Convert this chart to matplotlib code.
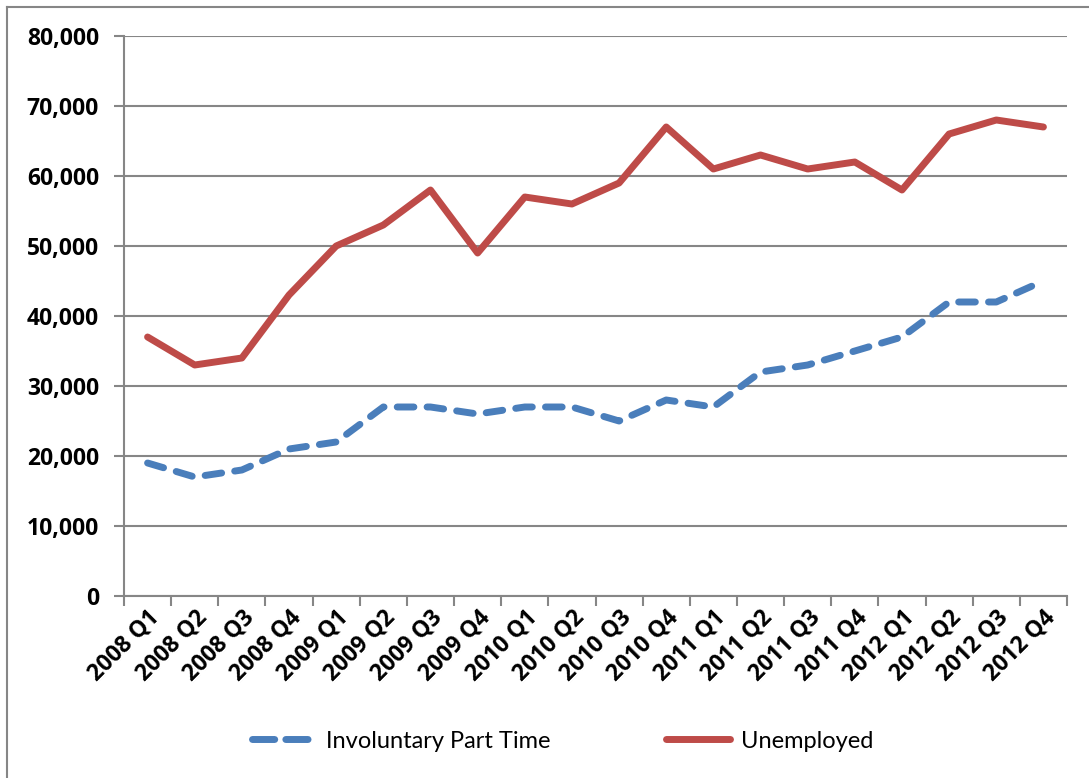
import matplotlib.pyplot as plt
from matplotlib.lines import Line2D

quarters = ["2008 Q1", "2008 Q2", "2008 Q3", "2008 Q4",
            "2009 Q1", "2009 Q2", "2009 Q3", "2009 Q4",
            "2010 Q1", "2010 Q2", "2010 Q3", "2010 Q4",
            "2011 Q1", "2011 Q2", "2011 Q3", "2011 Q4",
            "2012 Q1", "2012 Q2", "2012 Q3", "2012 Q4"]
involuntary = [19000, 17000, 18000, 21000, 22000, 27000, 27000, 26000, 27000, 27000,
               25000, 28000, 27000, 32000, 33000, 35000, 37000, 42000, 42000, 45000]
unemployed = [37000, 33000, 34000, 43000, 50000, 53000, 58000, 49000, 57000, 56000,
              59000, 67000, 61000, 63000, 61000, 62000, 58000, 66000, 68000, 67000]
y_ticks = list(range(0, 80001, 10000))

plt.rcParams['font.family'] = ['Lato', 'DejaVu Sans']
bold_font = ['Open Sans', 'DejaVu Sans']

fig = plt.figure(figsize=(10.89, 7.78), dpi=100)
ax = fig.add_axes([124/1089, 1 - 596/778, (1067 - 124)/1089, (596 - 36)/778])

x = list(range(len(quarters)))
blue = "#4a7ebb"
red = "#be4b48"
grid_c = "#868686"

ax.plot(x, involuntary, color=blue, lw=5.0, dashes=(2.4, 1.9),
        dash_capstyle='round', solid_joinstyle='round')
ax.plot(x, unemployed, color=red, lw=5.0, solid_capstyle='round',
        solid_joinstyle='round')

ax.set_xlim(-0.5, len(quarters) - 0.5)
ax.set_ylim(0, 80000)
ax.set_yticks(y_ticks)
ax.set_yticklabels([f"{v:,}" for v in y_ticks], fontsize=16.5, fontweight='bold',
                   family=bold_font)
ax.grid(axis='y', color=grid_c, lw=1.5)
ax.set_axisbelow(True)

ax.set_xticks([i - 0.5 for i in range(len(quarters) + 1)])
ax.set_xticklabels([])
ax.set_xticks(x, minor=True)
ax.set_xticklabels(quarters, minor=True, rotation=45, ha='right', va='top',
                   rotation_mode='anchor', fontsize=16.5, fontweight='bold',
                   family=bold_font)
ax.tick_params(axis='x', which='minor', length=0, pad=7)
ax.tick_params(axis='x', which='major', length=7, width=1.5, color=grid_c)
ax.tick_params(axis='y', length=7, width=1.5, color=grid_c, pad=11)

for s in ['top', 'right']:
    ax.spines[s].set_visible(False)
for s in ['left', 'bottom']:
    ax.spines[s].set_color(grid_c)
    ax.spines[s].set_linewidth(1.5)

# legend handles: two even dashes for the dashed series, like the original
handles = [
    Line2D([], [], color=blue, lw=5.0, dashes=(3.2, 1.6), dash_capstyle='round'),
    Line2D([], [], color=red, lw=5.0, solid_capstyle='round'),
]
fig.legend(handles, ["Involuntary Part Time", "Unemployed"], loc='center',
           bbox_to_anchor=(0.5165, 1 - 741/778), ncol=2,
           frameon=False, fontsize=17, handlelength=2.7,
           handletextpad=0.45, columnspacing=4.9)

# outer chart frame (top and left edges visible)
fig.add_artist(Line2D([7/1089, 1], [1 - 7/778, 1 - 7/778], color=grid_c, lw=1.5))
fig.add_artist(Line2D([7/1089, 7/1089], [0, 1 - 7/778], color=grid_c, lw=1.5))

fig.savefig("out.png", dpi=100)
